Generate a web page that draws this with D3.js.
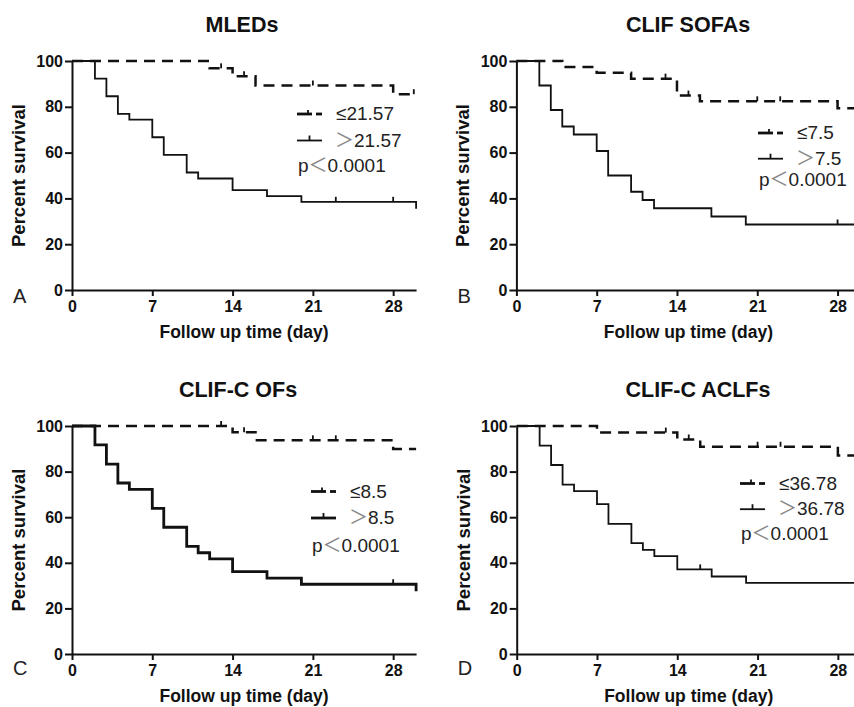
<!DOCTYPE html>
<html>
<head>
<meta charset="utf-8">
<script src="https://cdn.jsdelivr.net/npm/d3@7"></script>
<style>
  body { margin: 0; background: #fff; }
  svg { display: block; }
</style>
</head>
<body>
<div class="chart"></div>
<script>
var svgWidth = 854;
var svgHeight = 707;

// ---------------- data ----------------
// step times (day) and percent survival, plus censor times
var mledLowT = [0, 12, 14, 16, 28, 30];
var mledLowS = [100, 96.8, 93.3, 89.3, 85.5, 85.5];
var mledLowCens = [13, 15, 21, 29.8];
var mledHighT = [0, 2, 3, 4, 5, 7, 8, 10, 11, 14, 17, 20, 30];
var mledHighS = [100, 92.3, 84.6, 76.9, 74.4, 66.7, 59.0, 51.3, 48.7, 43.6, 41.0, 38.5, 35.5];
var mledHighCens = [23, 28];

var sofaLowT = [0, 4, 7, 10, 14, 16, 28, 30];
var sofaLowS = [100, 97.4, 94.9, 92.3, 84.9, 82.4, 79.4, 79.4];
var sofaLowCens = [13, 15, 21, 23];
var sofaHighT = [0, 2, 3, 4, 5, 7, 8, 10, 11, 12, 17, 20, 30];
var sofaHighS = [100, 89.3, 78.6, 71.4, 67.9, 60.7, 50.0, 42.9, 39.3, 35.7, 32.1, 28.6, 28.6];
var sofaHighCens = [28];

var ofLowT = [0, 14, 16, 28, 30];
var ofLowS = [100, 97.3, 93.7, 89.9, 89.9];
var ofLowCens = [13, 15, 21, 23];
var ofHighT = [0, 2, 3, 4, 5, 7, 8, 10, 11, 12, 14, 17, 20, 30];
var ofHighS = [100, 91.7, 83.3, 75.0, 72.2, 63.9, 55.6, 47.2, 44.4, 41.7, 36.1, 33.3, 30.6, 27.5];
var ofHighCens = [28];

var aclfLowT = [0, 7, 14, 16, 28, 30];
var aclfLowS = [100, 97.1, 94.1, 90.9, 87.1, 87.1];
var aclfLowCens = [13, 15, 21, 23];
var aclfHighT = [0, 2, 3, 4, 5, 7, 8, 10, 11, 12, 14, 17, 20, 30];
var aclfHighS = [100, 91.4, 82.9, 74.3, 71.4, 65.7, 57.1, 48.6, 45.7, 42.9, 37.1, 34.0, 31.2, 31.2];
var aclfHighCens = [16];

var titles = ["MLEDs", "CLIF SOFAs", "CLIF-C OFs", "CLIF-C ACLFs"];
var letters = ["A", "B", "C", "D"];
var cutLow = ["≤21.57", "≤7.5", "≤8.5", "≤36.78"];
var cutHigh = ["21.57", "7.5", "8.5", "36.78"];
var pText = "0.0001";

var xTicks = [0, 7, 14, 21, 28];
var yTicks = [0, 20, 40, 60, 80, 100];

// ---------------- layout ----------------
var panels = [
  { x0: 72, y100: 61, y0: 290, titleX: 242, letterY: 303, lowW: 2.5, highW: 1.8,
    lg: { x: 297, y: 120, dy: 26.5, dy2: 25 },
    low: [mledLowT, mledLowS, mledLowCens], high: [mledHighT, mledHighS, mledHighCens] },
  { x0: 516.4, y100: 61, y0: 290, titleX: 688, letterY: 303, lowW: 2.5, highW: 1.8,
    lg: { x: 758, y: 139, dy: 25.7, dy2: 21.7 },
    low: [sofaLowT, sofaLowS, sofaLowCens], high: [sofaHighT, sofaHighS, sofaHighCens] },
  { x0: 72, y100: 426, y0: 654, titleX: 238, letterY: 675, lowW: 2.5, highW: 2.8,
    lg: { x: 311, y: 497.5, dy: 26.5, dy2: 27.5 },
    low: [ofLowT, ofLowS, ofLowCens], high: [ofHighT, ofHighS, ofHighCens] },
  { x0: 516.7, y100: 426, y0: 654, titleX: 698, letterY: 675, lowW: 2.5, highW: 1.8,
    lg: { x: 740, y: 489.5, dy: 25.7, dy2: 25 },
    low: [aclfLowT, aclfLowS, aclfLowCens], high: [aclfHighT, aclfHighS, aclfHighCens] }
];
var plotW = 30 * 11.47;
var sans = "'Liberation Sans', Arial, Helvetica, 'Noto Sans CJK SC', sans-serif";

var svg = d3.select(".chart")
  .append("svg")
  .attr("width", svgWidth)
  .attr("height", svgHeight)
  .style("font-family", sans);

// survival value at time t for a step curve
function survAt(times, vals, t) {
  var i = d3.bisectRight(times, t) - 1;
  return vals[Math.max(0, Math.min(i, vals.length - 1))];
}

panels.forEach(function(p, k) {
  var g = svg.append("g");

  var x = d3.scaleLinear().domain([0, 30]).range([p.x0, p.x0 + plotW]);
  var y = d3.scaleLinear().domain([0, 100]).range([p.y0, p.y100]);

  var line = d3.line()
    .x(function(d) { return x(d[0]); })
    .y(function(d) { return y(d[1]); })
    .curve(d3.curveStepAfter);

  // curves
  [["low", p.lowW, "11,7"], ["high", p.highW, null]].forEach(function(c) {
    var s = p[c[0]];
    var pts = d3.zip(s[0], s[1]);
    g.append("path")
      .attr("d", line(pts))
      .attr("fill", "none")
      .attr("stroke", "#111")
      .attr("stroke-width", c[1])
      .attr("stroke-dasharray", c[2]);
    // censor marks
    g.selectAll(null)
      .data(s[2])
      .enter()
      .append("line")
      .attr("x1", function(t) { return x(t); })
      .attr("x2", function(t) { return x(t); })
      .attr("y1", function(t) { return y(survAt(s[0], s[1], t)); })
      .attr("y2", function(t) { return y(survAt(s[0], s[1], t)) - 5; })
      .attr("stroke", "#111")
      .attr("stroke-width", 1.8);
  });

  // axes
  var yAxis = g.append("g")
    .attr("transform", "translate(" + p.x0 + ",0)")
    .call(d3.axisLeft(y).tickValues(yTicks).tickSize(7).tickSizeOuter(0).tickPadding(2));
  var xAxis = g.append("g")
    .attr("transform", "translate(0," + p.y0 + ")")
    .call(d3.axisBottom(x).tickValues(xTicks).tickSize(6).tickSizeOuter(0).tickPadding(5));

  [xAxis, yAxis].forEach(function(a) {
    a.select(".domain").attr("stroke", "#111").attr("stroke-width", 2);
    a.selectAll(".tick line").attr("stroke", "#111").attr("stroke-width", 2);
    a.selectAll(".tick text")
      .attr("fill", "#111")
      .style("font-family", sans)
      .style("font-size", "16px")
      .style("font-weight", "bold");
  });

  // title
  g.append("text")
    .attr("x", p.titleX)
    .attr("y", p.y100 - 29.5)
    .attr("text-anchor", "middle")
    .style("font-size", "21.5px")
    .style("font-weight", "bold")
    .attr("fill", "#111")
    .text(titles[k]);

  // axis labels
  g.append("text")
    .attr("transform", "translate(" + (p.x0 - 47) + "," + ((p.y0 + p.y100) / 2) + ") rotate(-90)")
    .attr("text-anchor", "middle")
    .style("font-size", "18.5px")
    .style("font-weight", "bold")
    .attr("fill", "#111")
    .text("Percent survival");

  g.append("text")
    .attr("x", p.x0 + plotW / 2)
    .attr("y", p.y0 + 48)
    .attr("text-anchor", "middle")
    .style("font-size", "17.5px")
    .style("font-weight", "bold")
    .attr("fill", "#111")
    .text("Follow up time (day)");

  // panel letter
  g.append("text")
    .attr("x", p.x0 - 59)
    .attr("y", p.letterY)
    .style("font-size", "20px")
    .attr("fill", "#222")
    .text(letters[k]);

  // legend
  var lg = p.lg;
  var r1 = lg.y - 6, r2 = lg.y + lg.dy - 6;
  var sx = lg.x, tx = lg.x + 39;
  // dashed sample
  g.append("line").attr("x1", sx).attr("x2", sx + 15).attr("y1", r1).attr("y2", r1)
    .attr("stroke", "#111").attr("stroke-width", 2.8);
  g.append("line").attr("x1", sx + 11).attr("x2", sx + 11).attr("y1", r1).attr("y2", r1 - 4)
    .attr("stroke", "#111").attr("stroke-width", 1.8);
  g.append("line").attr("x1", sx + 19).attr("x2", sx + 25).attr("y1", r1).attr("y2", r1)
    .attr("stroke", "#111").attr("stroke-width", 2.8);
  // solid sample
  g.append("line").attr("x1", sx).attr("x2", sx + 25).attr("y1", r2).attr("y2", r2)
    .attr("stroke", "#111").attr("stroke-width", p.highW);
  g.append("line").attr("x1", sx + 12.5).attr("x2", sx + 12.5).attr("y1", r2).attr("y2", r2 - 5)
    .attr("stroke", "#111").attr("stroke-width", 1.8);

  g.append("text")
    .attr("x", tx)
    .attr("y", lg.y)
    .style("font-size", "19px")
    .attr("fill", "#222")
    .text(cutLow[k]);

  var t2 = g.append("text")
    .attr("x", tx - 1)
    .attr("y", lg.y + lg.dy)
    .style("font-size", "19px")
    .attr("fill", "#222");
  t2.append("tspan").attr("fill", "#888").text("＞");
  t2.append("tspan").text(cutHigh[k]);

  var t3 = g.append("text")
    .attr("x", lg.x + 1)
    .attr("y", lg.y + lg.dy + lg.dy2)
    .style("font-size", "19px")
    .attr("fill", "#222");
  t3.append("tspan").text("p");
  t3.append("tspan").attr("fill", "#888").text("＜");
  t3.append("tspan").text(pText);
});
</script>
</body>
</html>
